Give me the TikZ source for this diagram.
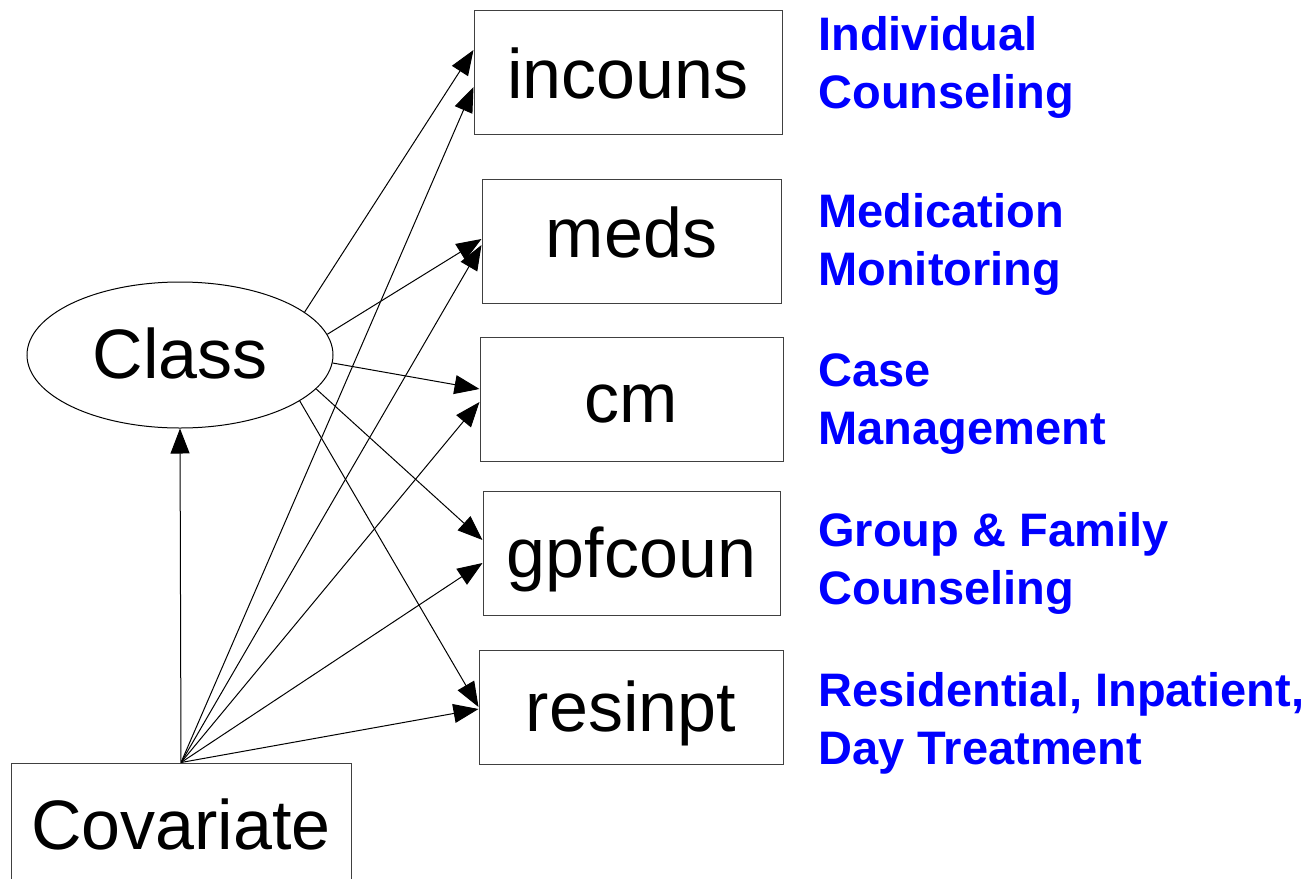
\documentclass[tikz,border=0pt]{standalone}
\usepackage{fontspec}
\setmainfont{Liberation Sans}
\usetikzlibrary{arrows.meta,shapes.geometric}

\begin{document}
\begin{tikzpicture}[x=0.5pt, y=-0.5pt,
  every node/.style = {font=\fontsize{35}{42}\selectfont},
  varbox/.style = {shape=rectangle, draw=black!75, line width=0.5pt,
    minimum height=62pt, inner sep=0pt, text height=24pt, text depth=0pt},
  latent/.style = {shape=ellipse, draw, line width=0.5pt, inner sep=0pt,
    minimum width=153pt, minimum height=73pt, text height=23pt, text depth=0pt},
  note/.style = {anchor=base west, align=left, inner sep=0pt, text=blue,
    font=\bfseries\fontsize{23.5}{29}\selectfont},
  effect/.style = {-{Triangle[length=12.5pt,width=9.5pt]}, line width=0.5pt}]
  \useasboundingbox (0,0) rectangle (1315,878);

  % latent class and covariate
  \node[latent] (Class) at (180,355) {Class};
  \node[varbox, minimum width=170pt, minimum height=59pt, text height=27pt] (Covariate) at (181,822) {Covariate};

  % service indicators
  \node[varbox, minimum width=154pt, text height=26pt] (incouns) at (628,72) {incouns};
  \node[varbox, minimum width=149.5pt, text height=16pt] (meds) at (631.5,241) {meds};
  \node[varbox, minimum width=151.5pt, text height=23pt] (cm) at (631.5,399) {cm};
  \node[varbox, minimum width=148.5pt] (gpfcoun) at (631.5,553) {gpfcoun};
  \node[varbox, minimum width=152pt, minimum height=57pt] (resinpt) at (631,707) {resinpt};

  % labels (anchored on the second line)
  \node[note] (incounsnote) at (818,108) {Individual\\Counseling};
  \node[note] (medsnote) at (818,285) {Medication\\Monitoring};
  \node[note] (cmnote) at (818,444) {Case\\Management};
  \node[note] (gpfcounnote) at (818,604) {Group \& Family\\Counseling};
  \node[note] (resinptnote) at (818,764) {Residential, Inpatient,\\Day Treatment};

  % class -> indicators
  \draw[effect] (Class.19) -- ([yshift=11pt]incouns.west);
  \draw[effect] (Class.8.6) -- ([yshift=1pt]meds.west);
  \draw[effect] (Class.-3.4) -- ([yshift=5pt]cm.west);
  \draw[effect] (Class.-14.5) -- ([yshift=6.5pt]gpfcoun.west);
  \draw[effect] (Class.-21.7) -- (resinpt.west);

  % covariate -> everything
  \draw[effect] (Covariate.north) -- (Class.south);
  \draw[effect] (Covariate.north) -- ([yshift=-7.5pt]incouns.west);
  \draw[effect] (Covariate.north) -- ([yshift=-2pt]meds.west);
  \draw[effect] (Covariate.north) -- ([yshift=-1.5pt]cm.west);
  \draw[effect] (Covariate.north) -- ([yshift=-5pt]gpfcoun.west);
  \draw[effect] (Covariate.north) -- ([yshift=-1pt]resinpt.west);
\end{tikzpicture}
\end{document}
